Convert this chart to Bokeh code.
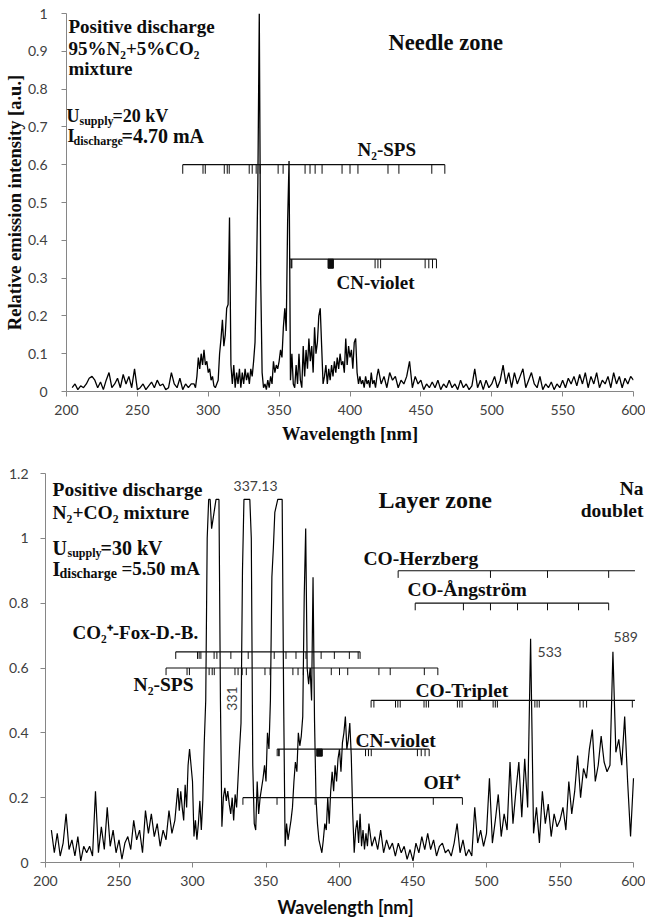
import math
from bokeh.plotting import figure
from bokeh.layouts import column
from bokeh.models import Range1d, Label, FixedTicker, Plot
from bokeh.embed import file_html
from bokeh.resources import INLINE

SERIF = "Liberation Serif"
SANS = "Lato"
INK = "#0d0d0d"

# ---------------- data ----------------
# spectrometer sampling (nm): coarse / fine / coarse
wl_lo = list(range(204, 290, 2))
wl_mid = list(range(290, 420))
wl_hi = list(range(420, 601, 2))
wavelength = wl_lo + wl_mid + wl_hi

# Needle zone (relative emission intensity)
needle_lo = [0.01, 0.02, 0.005, 0.015, 0.01, 0.02, 0.035, 0.04, 0.03, 0.01,
             0.025, 0.005, 0.03, 0.05, 0.01, 0.02, 0.035, 0.01, 0.045, 0.02,
             0.04, 0.01, 0.06, 0.005, 0.01, 0.02, 0.005, 0.015, 0.025, 0.01,
             0.03, 0.015, 0.02, 0.005, 0.01, 0.05, 0.02, 0.01, 0.035, 0.005,
             0.02, 0.01, 0.02]
needle_mid = [0.02, 0.01, 0.04, 0.09, 0.06, 0.10, 0.07, 0.11, 0.07, 0.08,
              0.05, 0.06, 0.03, 0.04, 0.015, 0.01, 0.02, 0.03, 0.10, 0.14,
              0.19, 0.12, 0.15, 0.22, 0.23, 0.46, 0.07, 0.02, 0.07, 0.01,
              0.05, 0.02, 0.06, 0.01, 0.05, 0.02, 0.06, 0.03, 0.05, 0.02,
              0.06, 0.04, 0.08, 0.13, 0.30, 0.55, 1.00, 0.30, 0.05, 0.01,
              0.02, 0.005, 0.03, 0.01, 0.04, 0.02, 0.08, 0.05, 0.07, 0.06,
              0.08, 0.11, 0.09, 0.17, 0.22, 0.16, 0.45, 0.61, 0.03, 0.10,
              0.02, 0.01, 0.07, 0.02, 0.10, 0.03, 0.01, 0.12, 0.04, 0.11,
              0.06, 0.14, 0.08, 0.12, 0.05, 0.17, 0.10, 0.13, 0.20, 0.22,
              0.12, 0.02, 0.04, 0.07, 0.02, 0.06, 0.03, 0.07, 0.04, 0.08,
              0.05, 0.09, 0.06, 0.10, 0.07, 0.08, 0.05, 0.14, 0.07, 0.12,
              0.09, 0.11, 0.06, 0.13, 0.14, 0.05, 0.02, 0.04, 0.02, 0.03,
              0.01, 0.04, 0.02, 0.03, 0.01, 0.05, 0.02, 0.03, 0.01, 0.04]
needle_hi = [0.06, 0.02, 0.04, 0.01, 0.05, 0.03, 0.04, 0.01, 0.03, 0.02,
             0.04, 0.08, 0.01, 0.04, 0.02, 0.03, 0.005, 0.02, 0.01, 0.025,
             0.01, 0.03, 0.005, 0.02, 0.01, 0.03, 0.01, 0.02, 0.005, 0.03,
             0.01, 0.02, 0.005, 0.015, 0.06, 0.01, 0.03, 0.005, 0.03, 0.01,
             0.02, 0.04, 0.01, 0.03, 0.07, 0.02, 0.05, 0.01, 0.05, 0.02,
             0.04, 0.06, 0.01, 0.03, 0.05, 0.02, 0.01, 0.04, 0.005, 0.02,
             0.01, 0.025, 0.005, 0.02, 0.01, 0.03, 0.01, 0.035, 0.02, 0.04,
             0.015, 0.045, 0.02, 0.05, 0.01, 0.04, 0.02, 0.05, 0.01, 0.03,
             0.02, 0.04, 0.01, 0.05, 0.02, 0.04, 0.01, 0.035, 0.02, 0.04,
             0.03]
needle_intensity = needle_lo + needle_mid + needle_hi

# Layer zone (relative emission intensity, saturated near 1.12)
layer_lo = [0.10, 0.03, 0.09, 0.02, 0.06, 0.15, 0.04, 0.07, 0.02, 0.08,
            0.005, 0.05, 0.03, 0.05, 0.02, 0.22, 0.03, 0.11, 0.04, 0.17,
            0.05, 0.10, 0.03, 0.07, 0.01, 0.06, 0.08, 0.04, 0.13, 0.07,
            0.10, 0.03, 0.16, 0.09, 0.15, 0.08, 0.12, 0.05, 0.10, 0.07,
            0.16, 0.09, 0.13]
layer_mid = [0.23, 0.16, 0.22, 0.17, 0.13, 0.24, 0.17, 0.30, 0.35, 0.30,
             0.25, 0.08, 0.13, 0.07, 0.12, 0.19, 0.10, 0.19, 0.37, 0.50,
             1.00, 1.12, 1.12, 1.03, 1.06, 1.09, 1.12, 1.12, 1.12, 0.50,
             0.11, 0.20, 0.23, 0.19, 0.22, 0.18, 0.15, 0.20, 0.13, 0.21,
             0.17, 0.26, 0.35, 0.43, 0.90, 1.12, 1.12, 1.12, 1.12, 1.12,
             1.00, 0.30, 0.12, 0.10, 0.25, 0.15, 0.20, 0.23, 0.26, 0.30,
             0.25, 0.40, 0.35, 0.50, 0.88, 0.97, 1.08, 1.10, 1.12, 1.12,
             1.12, 1.12, 0.50, 0.05, 0.12, 0.07, 0.10, 0.13, 0.17, 0.25,
             0.31, 0.28, 0.40, 0.36, 0.39, 0.45, 0.82, 1.03, 0.60, 0.55,
             0.60, 0.50, 0.88, 0.44, 0.20, 0.12, 0.07, 0.05, 0.03, 0.07,
             0.12, 0.10, 0.20, 0.12, 0.22, 0.28, 0.22, 0.30, 0.25, 0.32,
             0.35, 0.28, 0.37, 0.40, 0.45, 0.35, 0.38, 0.43, 0.33, 0.15,
             0.03, 0.10, 0.13, 0.06, 0.15, 0.05, 0.10, 0.04, 0.09, 0.05]
layer_hi = [0.12, 0.05, 0.08, 0.04, 0.10, 0.03, 0.07, 0.04, 0.06, 0.02,
            0.06, 0.03, 0.05, 0.01, 0.04, 0.005, 0.06, 0.03, 0.08, 0.04,
            0.09, 0.04, 0.07, 0.02, 0.05, 0.06, 0.03, 0.04, 0.02, 0.06,
            0.12, 0.03, 0.07, 0.02, 0.04, 0.02, 0.17, 0.06, 0.10, 0.05,
            0.09, 0.26, 0.06, 0.13, 0.21, 0.08, 0.15, 0.10, 0.31, 0.12,
            0.22, 0.31, 0.14, 0.32, 0.17, 0.69, 0.09, 0.17, 0.06, 0.22,
            0.12, 0.18, 0.08, 0.15, 0.11, 0.13, 0.17, 0.10, 0.25, 0.15,
            0.22, 0.33, 0.20, 0.29, 0.26, 0.35, 0.41, 0.25, 0.30, 0.39,
            0.31, 0.28, 0.30, 0.65, 0.34, 0.38, 0.30, 0.45, 0.25, 0.08,
            0.26]
layer_intensity = layer_lo + layer_mid + layer_hi

assert len(needle_intensity) == len(wavelength), (len(needle_intensity), len(wavelength))
assert len(layer_intensity) == len(wavelength), (len(layer_intensity), len(wavelength))

# axes ticks and labels
x_ticks = [200, 250, 300, 350, 400, 450, 500, 550, 600]
x_tick_labels = ["200", "250", "300", "350", "400", "450", "500", "550", "600"]
needle_y_ticks = [0, 0.1, 0.2, 0.3, 0.4, 0.5, 0.6, 0.7, 0.8, 0.9, 1]
needle_y_labels = ["0", "0.1", "0.2", "0.3", "0.4", "0.5", "0.6", "0.7", "0.8", "0.9", "1"]
layer_y_ticks = [0, 0.2, 0.4, 0.6, 0.8, 1, 1.2]
layer_y_labels = ["0", "0.2", "0.4", "0.6", "0.8", "1", "1.2"]

# band-head markers (nm)
n2_sps_heads = [282.0, 296.3, 297.9, 311.3, 313.4, 314.8, 328.9, 331.0, 333.8, 336.6,
                349.3, 352.8, 368.3, 371.8, 375.4, 380.3, 394.4, 400.0, 405.6,
                426.8, 434.5, 457.7, 466.9]
n2_sps_end = 466.9
cn_violet_heads = [357.6, 358.6, 359.0, 417.7, 419.7, 421.6, 453.0, 455.6, 458.2, 461.0]
cn_violet_block = [384.5, 388.3]
cn_violet_end = 461.0
co2p_fdb_heads = [288.6, 303.4, 304.5, 305.7, 314.7, 316.6, 326.1, 337.9, 355.6, 363.6,
                  370.4, 377.2, 387.5, 396.5, 406.7, 412.7, 414.0]
co2p_fdb_end = 414.0
co_herzberg_heads = [439.9, 502.7, 541.5, 583.1]
co_herzberg_end = 601.0
co_angstrom_heads = [451.5, 484.3, 502.7, 521.1, 541.5, 562.6, 583.1]
co_angstrom_end = 583.1
co_triplet_heads = [421.5, 423.4, 438.1, 439.7, 441.3, 457.5, 459.0, 460.6, 480.2, 481.8,
                    483.4, 504.5, 506.0, 507.4, 532.9, 534.4, 535.9, 563.6, 565.8, 568.1,
                    599.2]
co_triplet_end = 601.0
oh_plus_heads = [334.3, 357.5, 383.4, 463.8, 483.6]
oh_plus_end = 483.6

HAS_FRAME_ALIGN = "frame_align" in Plot.properties()


# ---------------- helpers ----------------
def make_fig(height, x_end, y_end, left, right, top, bottom, yticks, ylabels, ystandoff):
    kw = dict(width=645, height=height, x_range=Range1d(200, x_end), y_range=Range1d(0, y_end),
              output_backend="svg", toolbar_location=None,
              min_border_left=left, min_border_right=right, min_border_top=top,
              min_border_bottom=bottom)
    if HAS_FRAME_ALIGN:
        kw["frame_align"] = False
    p = figure(**kw)
    p.grid.visible = False
    p.outline_line_color = None
    p.background_fill_color = "white"
    p.border_fill_color = "white"
    p.xaxis.ticker = FixedTicker(ticks=x_ticks)
    p.xaxis.major_label_overrides = dict(zip(x_ticks, x_tick_labels))
    p.xaxis.bounds = (200, 600)
    p.yaxis.ticker = FixedTicker(ticks=yticks)
    p.yaxis.major_label_overrides = dict(zip(yticks, ylabels))
    for ax in (p.xaxis[0], p.yaxis[0]):
        ax.axis_line_color = "#868686"
        ax.major_tick_line_color = "#868686"
        ax.minor_tick_line_color = None
        ax.major_tick_out = 5
        ax.major_tick_in = 0
        ax.major_label_text_font = SANS
        ax.major_label_text_font_size = "14px"
        ax.major_label_text_color = "#404040"
        ax.axis_label_text_color = INK
        ax.axis_label_text_font_style = "bold"
        ax.axis_label_text_font_size = "18px"
    p.xaxis.major_label_standoff = 8
    p.yaxis.major_label_standoff = ystandoff
    return p


def txt(p, x, y, text, size, font=SERIF, style="bold", xo=0, yo=0, align="left",
        baseline="alphabetic", angle=0.0, color=INK):
    p.add_layout(Label(x=x, y=y, text=text, x_offset=xo, y_offset=yo, text_font=font,
                       text_font_size=f"{size}px", text_font_style=style, text_align=align,
                       text_baseline=baseline, angle=angle, text_color=color))


def bracket(p, heads, end, level, tick_len, block=None):
    p.segment(x0=[heads[0]], y0=[level], x1=[end], y1=[level], line_color=INK, line_width=1.2)
    n = len(heads)
    p.segment(x0=heads, y0=[level] * n, x1=heads, y1=[level - tick_len] * n,
              line_color=INK, line_width=1)
    if block is not None:
        p.quad(left=[block[0]], right=[block[1]], top=[level], bottom=[level - tick_len],
               fill_color=INK, line_color=INK)


# ---------------- Needle zone ----------------
p1 = make_fig(455, 600, 1, 66, 12, 13, 64, needle_y_ticks, needle_y_labels, 14)
p1.xaxis.axis_label = "Wavelength [nm]"
p1.xaxis.axis_label_text_font = SERIF
p1.xaxis.axis_label_text_font_size = "18.5px"
p1.xaxis.axis_label_standoff = 6
p1.yaxis.axis_label = "Relative emission intensity [a.u.]"
p1.yaxis.axis_label_text_font = SERIF
p1.yaxis.axis_label_text_font_size = "18.5px"
p1.yaxis.axis_label_standoff = 0

p1.line(wavelength, needle_intensity, line_color="black", line_width=1.3)
TL = 0.024
bracket(p1, n2_sps_heads, n2_sps_end, 0.6, TL)
bracket(p1, cn_violet_heads, cn_violet_end, 0.35, TL, cn_violet_block)

txt(p1, 200, 0.966, "Positive discharge", 19, xo=2)
txt(p1, 200, 0.907, "95%N\u2082+5%CO\u2082", 19, xo=2)
txt(p1, 200, 0.854, "mixture", 19, xo=2)
txt(p1, 200, 0.730, "U", 18, xo=0)
txt(p1, 200, 0.730, "supply", 12, xo=13, yo=-5)
txt(p1, 200, 0.730, "=20 kV", 18, xo=46)
txt(p1, 200, 0.677, "I", 18, xo=1)
txt(p1, 200, 0.677, "discharge", 12, xo=7, yo=-5)
txt(p1, 200, 0.677, "=4.70 mA", 20, xo=55)
txt(p1, 427.2, 0.924, "Needle  zone", 22.5)
txt(p1, 405.3, 0.640, "N\u2082-SPS", 19)
txt(p1, 390.5, 0.289, "CN-violet", 19)

# ---------------- Layer zone ----------------
# frame spans 645-45 px for (600-200)*1.47 px/nm, axis drawn only to 600 nm
p2 = make_fig(468, 200 + 600 / 1.47, 1.2, 45, 0, 18, 61, layer_y_ticks, layer_y_labels, 12)
p2.xaxis.axis_label = "Wavelength [nm]"
p2.xaxis.axis_label_text_font = SANS
p2.xaxis.axis_label_standoff = 7

p2.line(wavelength, layer_intensity, line_color="black", line_width=1.2)
BL = 0.022
bracket(p2, co_herzberg_heads, co_herzberg_end, 0.9, BL)
bracket(p2, co_angstrom_heads, co_angstrom_end, 0.8, BL)
bracket(p2, co2p_fdb_heads, co2p_fdb_end, 0.65, BL)
bracket(p2, n2_sps_heads, n2_sps_end, 0.6, BL)
bracket(p2, co_triplet_heads, co_triplet_end, 0.5, BL)
bracket(p2, cn_violet_heads, cn_violet_end, 0.35, BL, cn_violet_block)
bracket(p2, oh_plus_heads, oh_plus_end, 0.2, BL)

txt(p2, 200, 1.150, "Positive discharge", 19.5, xo=7)
txt(p2, 200, 1.081, "N\u2082+CO\u2082  mixture", 19.5, xo=7)
txt(p2, 200, 0.971, "U", 20, xo=7)
txt(p2, 200, 0.971, "supply", 12, xo=22, yo=-5)
txt(p2, 200, 0.971, "=30 kV", 20, xo=55)
txt(p2, 200, 0.906, "I", 20, xo=7)
txt(p2, 200, 0.906, "discharge", 14, xo=14, yo=-5)
txt(p2, 200, 0.906, "=5.50 mA", 19, xo=76)
txt(p2, 342.9, 1.160, "337.13", 14, font=SANS, style="normal", align="center", color="#404040")
txt(p2, 426.5, 1.117, "Layer  zone", 24)
txt(p2, 606.8, 1.153, "Na", 19.5, align="right")
txt(p2, 606.8, 1.086, "doublet", 19.5, align="right")
txt(p2, 416.3, 0.937, "CO-Herzberg", 19.5)
txt(p2, 446.3, 0.841, "CO-\u00c5ngstr\u00f6m", 19.5)
txt(p2, 534.7, 0.649, "533", 14, font=SANS, style="normal", color="#404040")
txt(p2, 586.4, 0.695, "589", 14, font=SANS, style="normal", color="#404040")
txt(p2, 218.4, 0.711, "CO\u2082\u207a-Fox-D.-B.", 19)
txt(p2, 259.9, 0.549, "N\u2082-SPS", 19.5)
txt(p2, 451.7, 0.531, "CO-Triplet", 19.5)
txt(p2, 327.2, 0.506, "331", 14, font=SANS, style="normal", align="center", baseline="middle",
    angle=math.pi / 2, color="#404040")
txt(p2, 410.9, 0.377, "CN-violet", 19.5)
txt(p2, 457.1, 0.248, "OH\u207a", 19.5)

layout = column(p1, p2)
open("out.html", "w").write(file_html(layout, INLINE))
